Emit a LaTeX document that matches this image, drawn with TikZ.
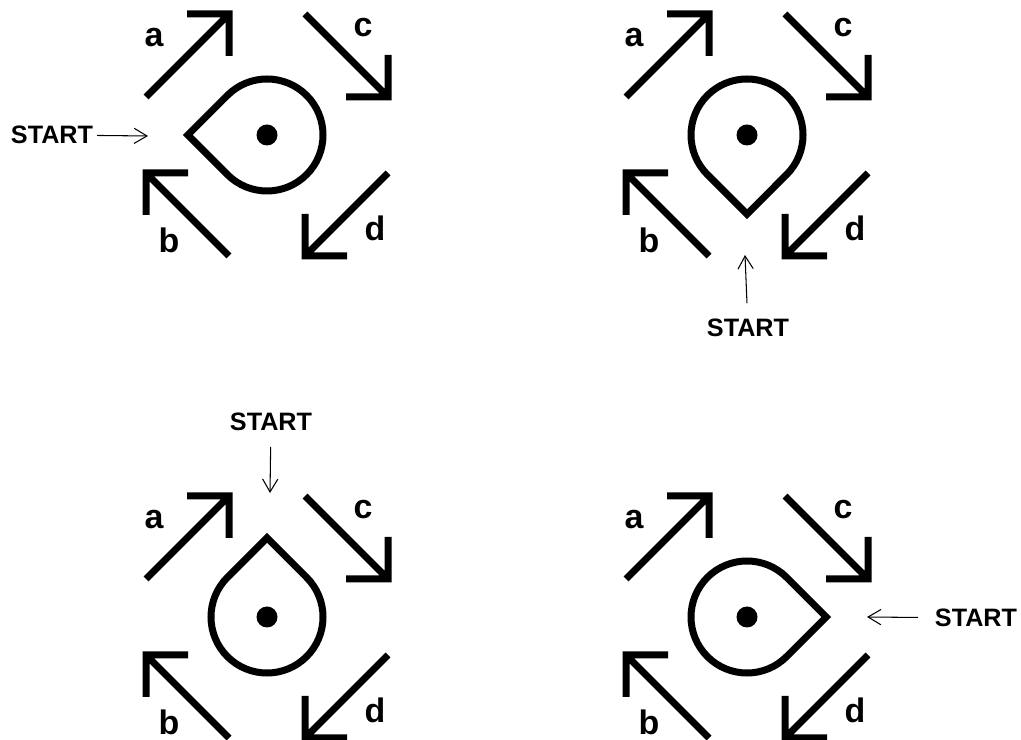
\documentclass[tikz,border=0pt]{standalone}
\usepackage{fontspec}
\setmainfont{Liberation Sans}
\usetikzlibrary{arrows.meta}
\definecolor{ink}{HTML}{000000}
\tikzset{line width=.8pt,
  every node/.style={font=\bfseries},
  drop/.style={draw=ink,line width=.21cm,line join=miter},
  arrowline/.style={draw=ink,line width=.21cm,line join=miter},
  dot/.style={circle,fill=ink,inner sep=0pt,minimum size=.63cm},
  lbl/.style={font=\fontsize{29}{30}\selectfont\bfseries},
  startlbl/.style={font=\fontsize{21.5}{23}\selectfont\bfseries},
  startarrow/.style={-{Straight Barb[length=11pt,width=13pt]},draw=ink,line width=.9pt}}
\begin{document}
\begin{tikzpicture}[x=.03cm,y=.03cm]
\useasboundingbox(0,0)rectangle(1021,740);
\foreach \n/\cx/\cy/\tip in {1/267/605/180,2/747/605/270,3/267/123/90,4/747/123/0}{
\begin{scope}[shift={(\cx,\cy)}]
\draw[drop]({\tip}:79.2)--({\tip+45}:56)arc[start angle=\tip+45,end angle=\tip+315,radius=56]--cycle;
\node[dot](hub\n)at(0,0){};
\foreach \r in {0,90,180,270}{\draw[arrowline,rotate=-\r](-121,38)--(-38,121)(-80,121)--(-38,121)--(-38,79);}
\foreach \lab/\lx/\ly in {a/-113/97,c/96/107,b/-98/-105,d/108/-93}{\node[lbl](\lab\n)at(\lx,\ly){\lab};}
\end{scope}}
\node[startlbl](s1)at(52,605){START};\coordinate(t1)at(148,604);\draw[startarrow](s1)--(t1);
\node[startlbl](s2)at(748,412){START};\coordinate(t2)at(745,485);\draw[startarrow,shorten <=10pt](s2)--(t2);
\node[startlbl](s3)at(271,318){START};\coordinate(t3)at(270,247);\draw[startarrow,shorten <=10pt](s3)--(t3);
\node[startlbl](s4)at(976,122){START};\coordinate(t4)at(867,123);\draw[startarrow,shorten <=11pt](s4)--(t4);
\end{tikzpicture}
\end{document}
